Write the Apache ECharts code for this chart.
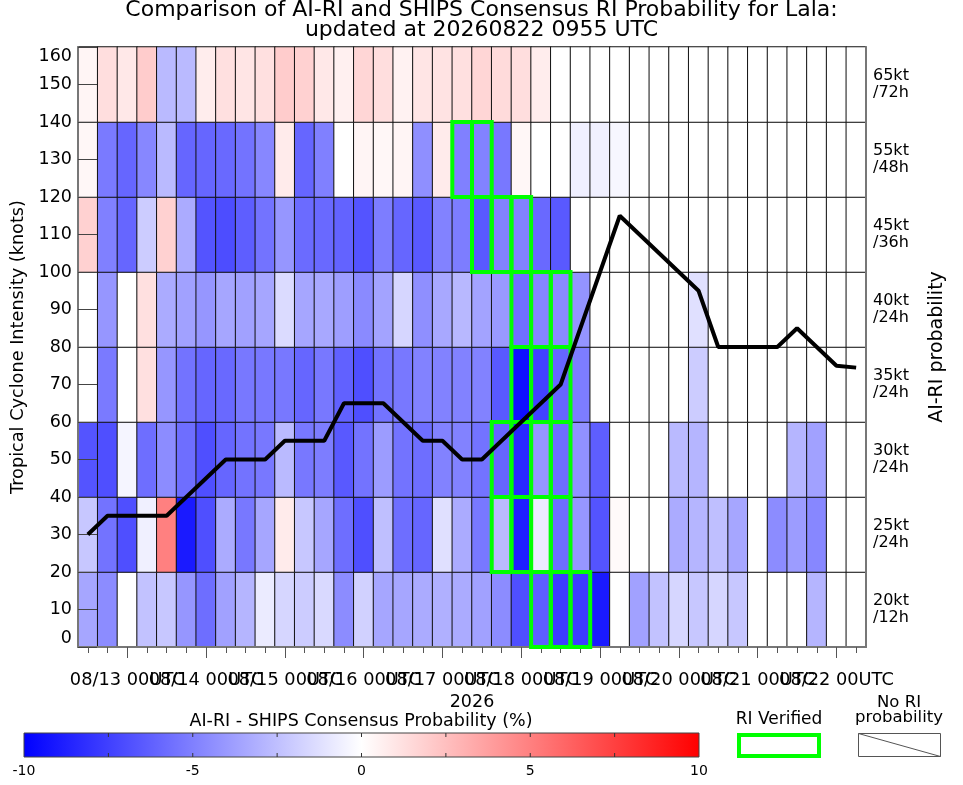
<!DOCTYPE html>
<html>
<head>
<meta charset="utf-8">
<script src="https://cdn.jsdelivr.net/npm/echarts@6/dist/echarts.min.js"></script>
<style>
html,body{margin:0;padding:0;background:#fff;}
#chart{width:963px;height:785px;}
</style>
</head>
<body>
<div id="chart"></div>
<script>
// ---- time categories (6-hourly, 08/12 12UTC .. 08/22 06UTC) ----
const startDay = 12, startHour = 12, nCols = 40;
const timeCategories = [];
for (let i = 0; i < nCols; i++) {
  const h = startHour + i * 6;
  const d = startDay + Math.floor(h / 24);
  const hh = h % 24;
  timeCategories.push('08/' + String(d).padStart(2, '0') + ' ' + String(hh).padStart(2, '0') + 'UTC');
}
const majorTickLabels = ['08/13 00UTC','08/14 00UTC','08/15 00UTC','08/16 00UTC','08/17 00UTC',
  '08/18 00UTC','08/19 00UTC','08/20 00UTC','08/21 00UTC','08/22 00UTC'];
// labels split into two alternating groups so the library does not drop overlapping ones
const labelGroupA = majorTickLabels.filter((v, i) => i % 2 === 0);
const labelGroupB = majorTickLabels.filter((v, i) => i % 2 === 1);

// ---- RI thresholds (rows, bottom to top) ----
const riThresholds = ['20kt\n/12h','25kt\n/24h','30kt\n/24h','35kt\n/24h','40kt\n/24h','45kt\n/36h','55kt\n/48h','65kt\n/72h'];

// ---- AI-RI minus SHIPS consensus probability (%) per threshold ----
const ri20kt12h = [-3.5,-4.5,0,-2.4,-2.2,-4.1,-5.7,-3.7,-2.9,-0.8, -1.6,-2.0,-1.5,-4.5,-1.8,-3.5,-3.5,-3.3,-3.1,-3.3, -3.7,-4.5,-6.9,-6.3,-7.6,-7.6,-9.0,0,-3.7,-2.4, -1.6,-2.2,-1.6,-2.2,0,0,0,-2.9,0,0];
const ri25kt24h = [-2.2,-5.5,-6.9,-0.6,5.0,-9.0,-6.9,-3.3,-5.3,-3.5, 0.8,-2.2,-3.5,-5.7,-6.9,-2.5,-5.7,-6.0,-1.2,-3.3, -5.3,-2.7,-8.8,-0.8,-5.7,-4.1,-6.7,0.2,0,0, -3.3,-2.9,-2.5,-3.5,0,-4.5,-3.9,-4.7,0,0];
const ri30kt24h = [-6.7,-6.9,-0.4,-5.7,-4.5,-5.7,-6.9,-6.0,-5.5,-5.3, -2.7,-5.3,-5.1,-6.5,-5.5,-3.9,-5.5,-5.7,-4.9,-4.9, -5.5,-6.0,-8.4,-4.1,-5.7,-4.3,-6.3,0,0,0, -2.7,-2.9,0,0,0,0,-2.9,-3.7,0,0];
const ri35kt24h = [0,-5.2,0,1.2,-4.1,-5.5,-6.0,-5.9,-5.3,-5.3, -5.3,-6.0,-5.3,-6.2,-6.9,-5.5,-5.3,-4.9,-4.9,-4.9, -4.9,-6.5,-9.4,-7.4,-6.0,-5.1,0,0,0,0, 0,-2.0,0,0,0,0,0,0,0,0];
const ri40kt24h = [0,-4.1,0,1.2,-3.3,-3.7,-4.1,-3.5,-3.7,-3.5, -1.4,-3.5,-3.4,-3.8,-4.6,-3.6,-1.6,-4.4,-3.4,-2.8, -3.6,-4.0,-5.6,-4.8,-4.6,-4.2,0,0,0,0, 0,-1.2,0,0,0,0,0,0,0,0];
const ri45kt36h = [1.8,-5.0,-6.0,-2.0,1.8,-3.3,-6.7,-7.0,-6.3,-5.5, -4.1,-5.8,-5.9,-6.1,-6.7,-5.1,-6.0,-6.5,-4.9,-5.1, -6.5,-4.9,-4.9,-5.9,-6.5,0,0,0,0,0, 0,0,0,0,0,0,0,0,0,0];
const ri55kt48h = [0.3,-5.2,-6.0,-4.7,-2.7,-6.0,-6.0,-5.9,-5.5,-4.7, 0.8,-6.0,-5.0,0,0.4,0.3,0.4,-4.4,0.8,-5.0, -4.9,-5.3,0.3,0,0,-0.6,-0.6,-0.3,0,0, 0,0,0,0,0,0,0,0,0,0];
const ri65kt72h = [0.4,1.3,0.9,2.0,-2.7,-2.7,0.7,1.2,1.0,1.2, 2.0,1.8,0.9,0.6,1.6,1.3,0.5,1.0,1.1,1.2, 1.6,1.4,1.3,0.7,0,0,0,0,0,0, 0,0,0,0,0,0,0,0,0,0];
const rowSeries = [ri20kt12h, ri25kt24h, ri30kt24h, ri35kt24h, ri40kt24h, ri45kt36h, ri55kt48h, ri65kt72h];

// ---- RI verified cells (column index, threshold row index) ----
const verifiedCol = [23,24,25, 21,22,23,24, 21,22,23,24, 22,23,24, 22,23,24, 20,21,22, 19,20];
const verifiedRow = [0,0,0,    1,1,1,1,     2,2,2,2,     3,3,3,    4,4,4,    5,5,5,    6,6];

// ---- Tropical cyclone intensity (knots) ----
const intensity = [30,35,35,35,35,40,45,50,50,50, 55,55,55,65,65,65,60,55,55,50, 50,55,60,65,70,85,100,115,110,105, 100,95,80,80,80,80,85,80,75,74.5];

// ---- colorbar ticks ----
const colorbarLabels = [-10,-5,0,5,10];
const colorbarTicks = [-7.5,-5,-2.5,0,2.5,5,7.5];

const heatData = [];
rowSeries.forEach((arr, r) => arr.forEach((v, c) => heatData.push([c, r, v])));
const verifiedData = verifiedCol.map((c, i) => [c, verifiedRow[i]]);

const FONT = 'DejaVu Sans';
const chart = echarts.init(document.getElementById('chart'), null, {renderer: 'canvas'});

// legend geometry
const cbX = 24, cbY = 733, cbW = 675, cbH = 24;
const cbPos = v => cbX + (v + 10) / 20 * cbW;
const graphics = [];
graphics.push({type:'rect', shape:{x:cbX, y:cbY, width:cbW, height:cbH},
  style:{fill:new echarts.graphic.LinearGradient(0,0,1,0,[{offset:0,color:'#0000ff'},{offset:0.5,color:'#ffffff'},{offset:1,color:'#ff0000'}]), stroke:'#444', lineWidth:1}});
colorbarTicks.forEach(v => {
  const x = cbPos(v);
  graphics.push({type:'line', shape:{x1:x,y1:cbY,x2:x,y2:cbY+4}, style:{stroke:'#333', lineWidth:1}});
  graphics.push({type:'line', shape:{x1:x,y1:cbY+cbH-4,x2:x,y2:cbY+cbH}, style:{stroke:'#333', lineWidth:1}});
});
colorbarLabels.forEach(v => {
  graphics.push({type:'text', x:cbPos(v), y:771, style:{text:String(v), fontSize:14, fontFamily:FONT, fill:'#000', textAlign:'center', textVerticalAlign:'middle'}});
});
graphics.push({type:'text', x:361, y:721, style:{text:'AI-RI - SHIPS Consensus Probability (%)', fontSize:17.5, fontFamily:FONT, fill:'#000', textAlign:'center', textVerticalAlign:'middle'}});
graphics.push({type:'text', x:779, y:720, style:{text:'RI Verified', fontSize:17, fontFamily:FONT, fill:'#000', textAlign:'center', textVerticalAlign:'middle'}});
graphics.push({type:'rect', shape:{x:739, y:735, width:80, height:21}, style:{fill:'none', stroke:'#00ff00', lineWidth:4}});
graphics.push({type:'text', x:899, y:710, style:{text:'No RI\nprobability', fontSize:16.5, lineHeight:15.5, fontFamily:FONT, fill:'#000', textAlign:'center', textVerticalAlign:'middle'}});
graphics.push({type:'rect', shape:{x:858.5, y:733.5, width:82, height:23}, style:{fill:'none', stroke:'#555', lineWidth:1}});
graphics.push({type:'line', shape:{x1:858.5,y1:733.5,x2:940.5,y2:756.5}, style:{stroke:'#555', lineWidth:1}});

const labelStyle = {fontFamily: FONT, fontSize: 17.8, color: '#000', margin: 24,
  showMinLabel: true, showMaxLabel: true, hideOverlap: false};

const option = {
  backgroundColor: '#ffffff',
  animation: false,
  textStyle: {fontFamily: FONT},
  title: {
    text: 'Comparison of AI-RI and SHIPS Consensus RI Probability for Lala:\nupdated at 20260822 0955 UTC',
    left: 'center', top: 0, padding: 0,
    textStyle: {fontFamily: FONT, fontSize: 22, fontWeight: 'normal', color: '#000', lineHeight: 20}
  },
  grid: {left: 78, right: 97, top: 47, bottom: 138, containLabel: false},
  visualMap: {
    show: false, type: 'continuous', min: -10, max: 10, dimension: 2, seriesIndex: 0,
    inRange: {color: ['#0000ff', '#ffffff', '#ff0000']}
  },
  xAxis: [
    {
      type: 'category', data: timeCategories, z: 10,
      name: '2026', nameLocation: 'middle', nameGap: 39,
      nameTextStyle: {fontFamily: FONT, fontSize: 17.5, color: '#000'},
      axisLine: {show: true, lineStyle: {color: '#777', width: 2}},
      axisTick: {show: true, alignWithLabel: true, interval: 0, length: 6, lineStyle: {color: '#555'}},
      axisLabel: Object.assign({show: true, interval: (i, v) => labelGroupA.includes(v)}, labelStyle),
      splitLine: {show: false}
    },
    {
      type: 'category', data: timeCategories, position: 'bottom', z: 10,
      axisLine: {show: false},
      axisTick: {show: true, alignWithLabel: true, interval: (i, v) => majorTickLabels.includes(v), length: 11, lineStyle: {color: '#555'}},
      axisLabel: Object.assign({show: true, interval: (i, v) => labelGroupB.includes(v)}, labelStyle),
      splitLine: {show: false}
    }
  ],
  yAxis: [
    {
      type: 'value', min: 0, max: 160, interval: 10, z: 10,
      name: 'Tropical Cyclone Intensity (knots)', nameLocation: 'middle', nameGap: 51,
      nameTextStyle: {fontFamily: FONT, fontSize: 17.7, color: '#000'},
      axisLine: {show: true, lineStyle: {color: '#777', width: 2}},
      axisTick: {show: true, inside: true, length: 19, lineStyle: {color: '#444'}},
      axisLabel: {margin: 6, fontFamily: FONT, fontSize: 17.5, color: '#000',
        verticalAlignMinLabel: 'bottom', verticalAlignMaxLabel: 'top'},
      splitLine: {show: false}
    },
    {
      type: 'category', data: riThresholds, position: 'right', z: 10,
      name: 'AI-RI probability', nameLocation: 'middle', nameGap: 62,
      nameTextStyle: {fontFamily: FONT, fontSize: 19, color: '#000'},
      axisLine: {show: true, lineStyle: {color: '#777', width: 2}},
      axisTick: {show: false},
      axisLabel: {margin: 7, fontFamily: FONT, fontSize: 16, lineHeight: 16.7, color: '#000',
        align: 'left', padding: [7, 0, 0, 0]},
      splitLine: {show: false}
    }
  ],
  series: [
    {
      type: 'heatmap', xAxisIndex: 0, yAxisIndex: 1, data: heatData, z: 2,
      itemStyle: {borderColor: '#111', borderWidth: 1},
      emphasis: {disabled: true}
    },
    {
      type: 'custom', xAxisIndex: 0, yAxisIndex: 1, data: verifiedData, z: 15, silent: true,
      renderItem: (params, api) => {
        const c = api.coord([api.value(0), api.value(1)]);
        const s = api.size([1, 1]);
        return {type: 'rect', shape: {x: c[0] - s[0] / 2, y: c[1] - s[1] / 2, width: s[0], height: s[1]},
          style: {fill: 'none', stroke: '#00ff00', lineWidth: 4}};
      }
    },
    {
      type: 'line', xAxisIndex: 0, yAxisIndex: 0, data: intensity, z: 20,
      symbol: 'none', lineStyle: {color: '#000', width: 4}, silent: true
    }
  ],
  graphic: graphics
};
chart.setOption(option);
</script>
</body>
</html>
